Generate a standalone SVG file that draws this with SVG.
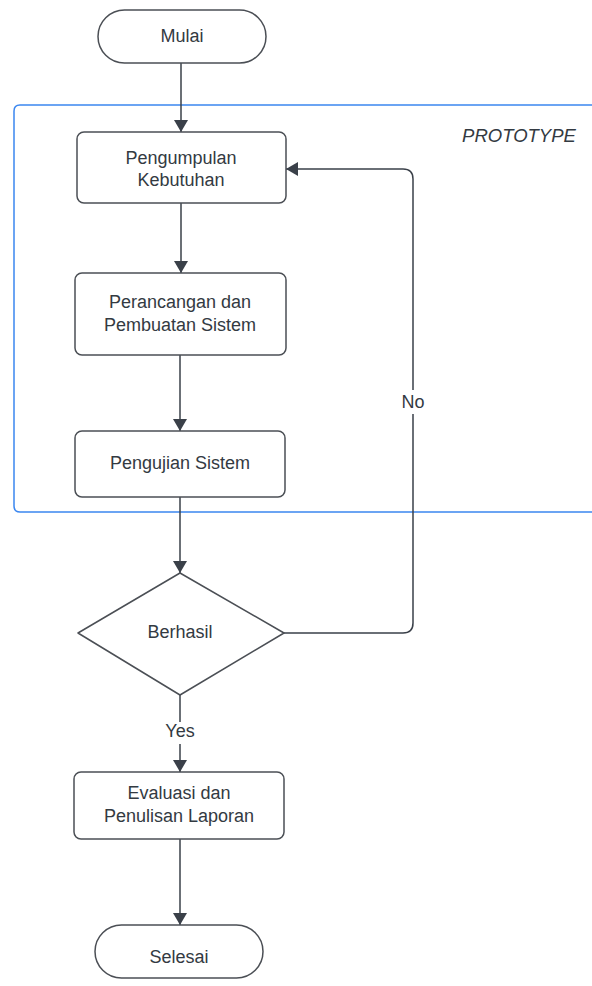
<svg xmlns="http://www.w3.org/2000/svg" width="592" height="986" viewBox="0 0 592 986">
<style>
.shape{fill:#ffffff;stroke:#4b4f55;stroke-width:1.5}
.t{font-family:"Liberation Sans",Arial,sans-serif;font-size:18px;fill:#333a42;text-anchor:middle}
.c{fill:none;stroke:#3a4049;stroke-width:1.5}
.lbl{fill:#ffffff}
</style>
<defs>
<marker id="ah" viewBox="0 0 12 14" refX="12" refY="7" markerWidth="12" markerHeight="14" markerUnits="userSpaceOnUse" orient="auto">
<path d="M0,0 L12,7 L0,14 Z" fill="#3a4049"/>
</marker>
</defs>
<g id="container">
<path d="M600,105 L20,105 Q14,105 14,111 L14,506 Q14,512 20,512 L600,512" fill="none" stroke="#3b87f0" stroke-width="1.5"/>
<text x="519" y="142" class="t" style="font-style:italic;font-size:18.5px">PROTOTYPE</text>
</g>
<g id="connectors">
<line x1="181" y1="63" x2="181" y2="132" class="c" marker-end="url(#ah)"/>
<line x1="181" y1="203" x2="181" y2="273" class="c" marker-end="url(#ah)"/>
<line x1="180" y1="355" x2="180" y2="431" class="c" marker-end="url(#ah)"/>
<line x1="180" y1="497" x2="180" y2="573" class="c" marker-end="url(#ah)"/>
<path d="M284,633 L403,633 Q413,633 413,623 L413,179 Q413,169 403,169 L286,169" class="c" marker-end="url(#ah)"/>
<rect x="400" y="390" width="26" height="24" class="lbl"/>
<text x="413" y="408" class="t">No</text>
<line x1="180" y1="695" x2="180" y2="772" class="c" marker-end="url(#ah)"/>
<rect x="162" y="722" width="36" height="22" class="lbl"/>
<text x="180" y="737" class="t">Yes</text>
<line x1="180" y1="839" x2="180" y2="925" class="c" marker-end="url(#ah)"/>
</g>
<g id="mulai">
<rect x="98" y="10" width="168" height="53" rx="26.5" class="shape"/>
<text x="182" y="42" class="t">Mulai</text>
</g>
<g id="pengumpulan">
<rect x="77" y="132" width="209" height="71" rx="7" class="shape"/>
<text x="181" y="164" class="t">Pengumpulan</text>
<text x="181" y="186" class="t">Kebutuhan</text>
</g>
<g id="perancangan">
<rect x="75" y="273" width="211" height="82" rx="7" class="shape"/>
<text x="180" y="308" class="t">Perancangan dan</text>
<text x="180" y="331" class="t">Pembuatan Sistem</text>
</g>
<g id="pengujian">
<rect x="75" y="431" width="210" height="66" rx="7" class="shape"/>
<text x="180" y="469" class="t">Pengujian Sistem</text>
</g>
<g id="berhasil">
<path d="M180,573 L284,633 L180,695 L78,633 Z" class="shape" stroke-linejoin="round"/>
<text x="180" y="638" class="t">Berhasil</text>
</g>
<g id="evaluasi">
<rect x="74" y="772" width="210" height="67" rx="7" class="shape"/>
<text x="179" y="799" class="t">Evaluasi dan</text>
<text x="179" y="822" class="t">Penulisan Laporan</text>
</g>
<g id="selesai">
<rect x="95" y="925" width="168" height="53" rx="26.5" class="shape"/>
<text x="179" y="963" class="t">Selesai</text>
</g>
</svg>
